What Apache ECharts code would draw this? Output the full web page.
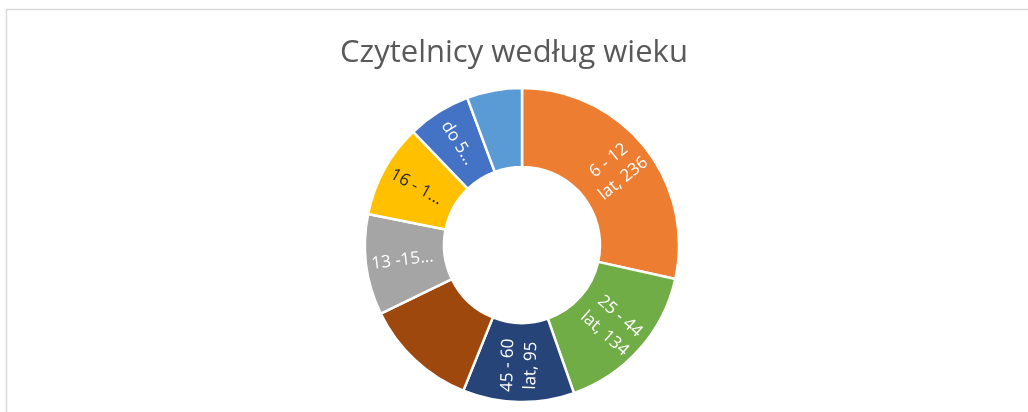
<!DOCTYPE html>
<html>
<head>
<meta charset="utf-8">
<script src="https://cdn.jsdelivr.net/npm/echarts@6/dist/echarts.min.js"></script>
<style>
  html, body { margin: 0; padding: 0; background: #fff; }
  #chart { width: 1028px; height: 412px; }
</style>
</head>
<body>
<div id="chart"></div>
<script>
// age groups, clockwise from 12 o'clock
const groups = ['6 - 12 lat', '25 - 44 lat', '45 - 60 lat', 'powyżej 60 lat', '13 -15 lat', '16 - 19 lat', 'do 5 lat', 'studenci'];
const readers = [236, 134, 95, 97, 86, 80, 54, 47];
const colors = ['#ED7D31', '#70AD47', '#264478', '#9E480E', '#A5A5A5', '#FFC000', '#4472C4', '#5B9BD5'];
// slices whose label was removed in the original
const hiddenLabels = ['powyżej 60 lat', 'studenci'];

let myChart = echarts.init(document.getElementById('chart'));

const data = groups.map((name, i) => {
    const big = readers[i] >= 90;
    return {
        name: name,
        value: readers[i],
        itemStyle: { color: colors[i] },
        label: {
            show: hiddenLabels.indexOf(name) < 0,
            color: colors[i] === '#FFC000' ? '#262626' : '#fff',
            overflow: big ? 'none' : 'truncate',
            // small slices get cut like in Excel
            width: big ? undefined : Math.round(20 + readers[i] * 0.55),
            ellipsis: '...'
        }
    };
});

const option = {
    title: {
        text: 'Czytelnicy według wieku',
        left: 'center',
        top: 33,
        textStyle: {
            fontFamily: 'Open Sans',
            fontSize: 31,
            fontWeight: 'normal',
            color: '#595959'
        }
    },
    graphic: [{
        type: 'rect',
        shape: { x: 6.5, y: 9.5, width: 1040, height: 420 },
        style: { fill: 'none', stroke: '#D9D9D9', lineWidth: 1.5 },
        silent: true
    }],
    series: [{
        type: 'pie',
        center: [522, 245],
        radius: [78, 157],
        startAngle: 90,
        clockwise: true,
        avoidLabelOverlap: false,
        itemStyle: { borderColor: '#fff', borderWidth: 2.5 },
        label: {
            position: 'inside',
            rotate: 'radial',
            fontFamily: 'Open Sans',
            fontSize: 17,
            lineHeight: 23,
            formatter: p => p.value >= 90
                ? p.name.replace(' lat', '') + '\nlat, ' + p.value
                : p.name + ', ' + p.value
        },
        labelLine: { show: false },
        emphasis: { disabled: true },
        data: data
    }]
};
myChart.setOption(option);
</script>
</body>
</html>
